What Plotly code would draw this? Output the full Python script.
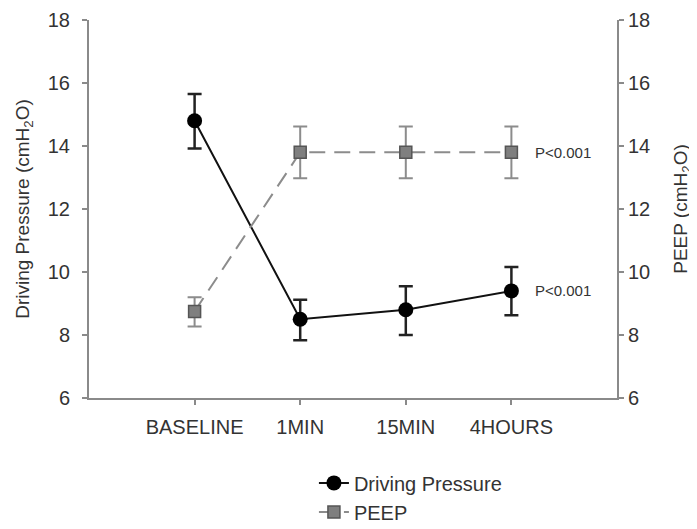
import plotly.graph_objects as go

categories = ["BASELINE", "1MIN", "15MIN", "4HOURS"]
dp_mean = [14.8, 8.5, 8.8, 9.4]
dp_err_plus = [0.85, 0.62, 0.75, 0.76]
dp_err_minus = [0.88, 0.67, 0.80, 0.77]
peep_mean = [8.75, 13.8, 13.8, 13.8]
peep_err_plus = [0.45, 0.82, 0.82, 0.82]
peep_err_minus = [0.48, 0.82, 0.82, 0.82]
p_labels = ["P<0.001", "P<0.001"]

axis_gray = "#8a8a8a"
text_col = "#333333"
font_family = "Liberation Sans, Arial, sans-serif"

fig = go.Figure()

fig.add_trace(go.Scatter(
    x=categories, y=peep_mean, name="PEEP", yaxis="y2",
    mode="lines+markers",
    line=dict(color="#8c8c8c", width=2, dash="16px,9px"),
    marker=dict(symbol="square", size=12, color="#7f7f7f",
                line=dict(color="#555555", width=1.5)),
    error_y=dict(type="data", symmetric=False, array=peep_err_plus,
                 arrayminus=peep_err_minus, color="#8c8c8c",
                 thickness=2, width=7),
))

fig.add_trace(go.Scatter(
    x=categories, y=dp_mean, name="Driving Pressure",
    mode="lines+markers",
    line=dict(color="#111111", width=2),
    marker=dict(symbol="circle", size=15, color="#000000"),
    error_y=dict(type="data", symmetric=False, array=dp_err_plus,
                 arrayminus=dp_err_minus, color="#222222",
                 thickness=2.5, width=7),
))

fig.add_annotation(x=categories[-1], y=peep_mean[-1], yref="y2", text=p_labels[0],
                   showarrow=False, xanchor="left", xshift=22,
                   font=dict(size=15, color=text_col))
fig.add_annotation(x=categories[-1], y=dp_mean[-1], yref="y", text=p_labels[1],
                   showarrow=False, xanchor="left", xshift=22,
                   font=dict(size=15, color=text_col))

axis_common = dict(
    range=[6, 18], tickvals=[6, 8, 10, 12, 14, 16, 18],
    showgrid=False, zeroline=False, automargin=False,
    showline=True, linecolor=axis_gray, linewidth=2,
    ticks="outside", ticklen=5, tickcolor=axis_gray, tickwidth=1.5,
    tickfont=dict(size=20, color=text_col),
)

fig.update_layout(
    width=697, height=529,
    margin=dict(l=81, r=88, t=12, b=139, autoexpand=False),
    paper_bgcolor="white", plot_bgcolor="white",
    font=dict(family=font_family, color=text_col),
    showlegend=True,
    legend=dict(x=0.426, y=-0.173, xanchor="left", yanchor="top",
                font=dict(size=20, color=text_col),
                traceorder="reversed", bgcolor="rgba(0,0,0,0)",
                tracegroupgap=0),
    xaxis=dict(
        type="category", range=[-1, 4], automargin=False,
        showgrid=False, zeroline=False,
        showline=True, linecolor=axis_gray, linewidth=2,
        ticks="outside", ticklen=5, tickcolor=axis_gray, tickwidth=1.5,
        tickfont=dict(size=20, color=text_col),
        ticklabelstandoff=5,
    ),
    yaxis=dict(
        title=dict(text="Driving Pressure (cmH<sub>2</sub>O)",
                   font=dict(size=19, color=text_col), standoff=13),
        ticklabelstandoff=8,
        **axis_common,
    ),
    yaxis2=dict(
        title=dict(text="PEEP (cmH<sub>2</sub>O)",
                   font=dict(size=19, color=text_col), standoff=24),
        overlaying="y", side="right",
        **axis_common,
    ),
)

fig.write_html("out.html")
